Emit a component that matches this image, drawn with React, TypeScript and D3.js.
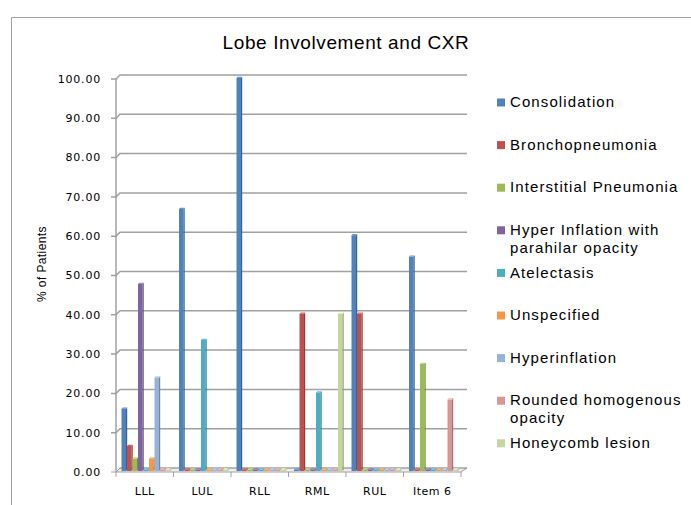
import React from "react";
import * as d3 from "d3";

const categories = ["LLL", "LUL", "RLL", "RML", "RUL", "Item 6"];
const seriesNames = [
  "Consolidation",
  "Bronchopneumonia",
  "Interstitial Pneumonia",
  "Hyper Inflation with parahilar opacity",
  "Atelectasis",
  "Unspecified",
  "Hyperinflation",
  "Rounded homogenous opacity",
  "Honeycomb lesion",
];
const legendLines = [
  ["Consolidation"],
  ["Bronchopneumonia"],
  ["Interstitial Pneumonia"],
  ["Hyper Inflation with", "parahilar opacity"],
  ["Atelectasis"],
  ["Unspecified"],
  ["Hyperinflation"],
  ["Rounded homogenous", "opacity"],
  ["Honeycomb lesion"],
];
const seriesColors = [
  "#4F81BD",
  "#C0504D",
  "#9BBB59",
  "#8064A2",
  "#4BACC6",
  "#F79646",
  "#95B3D7",
  "#D99694",
  "#C3D69B",
];

const consolidation = [15.87, 66.67, 100, 0, 60, 54.55];
const bronchopneumonia = [6.35, 0, 0, 40, 40, 0];
const interstitialPneumonia = [3.17, 0, 0, 0, 0, 27.27];
const hyperInflationParahilar = [47.62, 0, 0, 0, 0, 0];
const atelectasis = [0, 33.33, 0, 20, 0, 0];
const unspecified = [3.17, 0, 0, 0, 0, 0];
const hyperinflation = [23.81, 0, 0, 0, 0, 0];
const roundedOpacity = [0, 0, 0, 0, 0, 18.18];
const honeycombLesion = [0, 0, 0, 40, 0, 0];

const seriesValues = [
  consolidation,
  bronchopneumonia,
  interstitialPneumonia,
  hyperInflationParahilar,
  atelectasis,
  unspecified,
  hyperinflation,
  roundedOpacity,
  honeycombLesion,
];

const yTicks = [0, 10, 20, 30, 40, 50, 60, 70, 80, 90, 100];

export default function App() {
  const W = 691;
  const H = 505;
  const left = 116;
  const right = 461;
  const base = 472;
  const top = 79;
  const depth = 4;

  const x = d3.scaleBand<string>().domain(categories).range([left, right]).padding(0);
  const inner = d3
    .scaleBand<string>()
    .domain(seriesNames)
    .range([5.5, 5.5 + 5.5 * 9])
    .padding(0);
  const y = d3.scaleLinear().domain([0, 100]).range([base, top]);
  const fmt = d3.format(".2f");
  const grid = "#a0a0a0";

  const bars: React.ReactNode[] = [];
  seriesValues.forEach((vals, si) => {
    const col = seriesColors[si];
    const side = d3.color(col)!.darker(0.8).formatHex();
    const topc = d3.color(col)!.brighter(0.4).formatHex();
    vals.forEach((v, ci) => {
      const x0 = (x(categories[ci]) as number) + (inner(seriesNames[si]) as number);
      const w = 4.5;
      const d = 1.2;
      const b = y(0) - 1;
      let t = y(v) - 1;
      if (b - t < 1.5) t = b - 1.5;
      bars.push(
        <g key={`b-${si}-${ci}`}>
          <rect x={x0} y={t} width={w} height={b - t} fill={col} />
          <polygon
            points={`${x0 + w},${t} ${x0 + w + d},${t - d} ${x0 + w + d},${b - d} ${x0 + w},${b}`}
            fill={side}
          />
          <polygon
            points={`${x0},${t} ${x0 + d},${t - d} ${x0 + w + d},${t - d} ${x0 + w},${t}`}
            fill={topc}
          />
        </g>
      );
    });
  });

  return (
    <svg
      width={W}
      height={H}
      style={{ position: "absolute", left: 0, top: 0, background: "#fff" }}
    >
      <path d="M11.5,505 V17.5 H691" fill="none" stroke="#a0a0a0" strokeWidth={1} />
      <text
        x={346}
        y={49}
        textAnchor="middle"
        fontFamily="'Liberation Sans', Arial, sans-serif"
        fontSize={19}
        letterSpacing={0.6}
        fill="#000"
      >
        Lobe Involvement and CXR
      </text>

      {/* floor */}
      <polygon
        points={`${left},${base} ${right},${base} ${right + depth + 2},${base - depth} ${left + depth},${base - depth}`}
        fill="#ececec"
        stroke={grid}
        strokeWidth={1}
      />

      {/* gridlines & y ticks */}
      {yTicks.map((t) => (
        <g key={`g-${t}`}>
          <path
            d={`M111,${y(t)} H${left} L${left + depth},${y(t) - depth} H${right + depth + 2}`}
            fill="none"
            stroke={grid}
            strokeWidth={t === 0 ? 1 : 1.5}
          />
          <text
            x={101}
            y={y(t)}
            dy="0.35em"
            textAnchor="end"
            fontFamily="'DejaVu Sans', Verdana, sans-serif"
            fontSize={11}
            letterSpacing={0.8}
            fill="#000"
          >
            {fmt(t)}
          </text>
        </g>
      ))}
      <line x1={left} x2={left} y1={top} y2={base} stroke={grid} strokeWidth={1.5} />

      {/* x ticks */}
      {[...categories.map((c) => x(c) as number), right].map((p, i) => (
        <line key={`xt-${i}`} x1={p} x2={p} y1={base} y2={base + 5} stroke={grid} strokeWidth={1} />
      ))}

      {bars}

      {categories.map((c) => (
        <text
          key={`xl-${c}`}
          x={(x(c) as number) + x.bandwidth() / 2}
          y={495}
          textAnchor="middle"
          fontFamily="'DejaVu Sans', Verdana, sans-serif"
          fontSize={11}
          letterSpacing={0.5}
          fill="#000"
        >
          {c}
        </text>
      ))}

      <text
        transform="translate(46,264) rotate(-90)"
        textAnchor="middle"
        fontFamily="'Liberation Sans', Arial, sans-serif"
        fontSize={12}
        letterSpacing={0.4}
        fill="#000"
      >
        % of Patients
      </text>

      {/* legend */}
      {seriesNames.map((s, i) => {
        const cy = 102 + i * 42.6;
        return (
          <g key={`lg-${i}`}>
            <rect x={497} y={cy - 3.5} width={8} height={8} fill={seriesColors[i]} />
            {legendLines[i].map((ln, k) => (
              <text
                key={k}
                x={510}
                y={cy + k * 18}
                dy="0.35em"
                fontFamily="'Liberation Sans', Arial, sans-serif"
                fontSize={15}
                letterSpacing={1.1}
                fill="#000"
              >
                {ln}
              </text>
            ))}
          </g>
        );
      })}
    </svg>
  );
}
